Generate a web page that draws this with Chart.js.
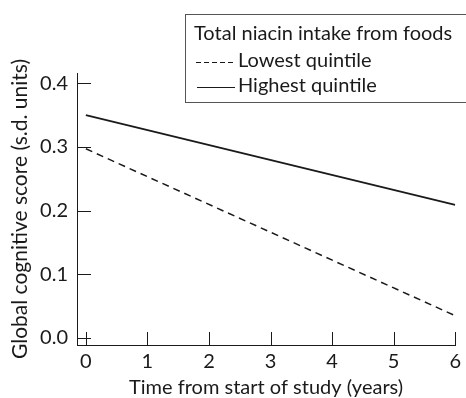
<!DOCTYPE html>
<html>
<head>
<meta charset="utf-8">
<script src="https://cdn.jsdelivr.net/npm/chart.js@4/dist/chart.umd.min.js"></script>
<style>
  html, body { margin: 0; padding: 0; background: #fff; }
  #wrap { width: 466px; height: 398px; position: relative; }
</style>
</head>
<body>
<div id="wrap"><canvas id="chart" width="466" height="398"></canvas></div>
<script>
// Chart data
const years = [0, 6];
const lowestQuintile = [0.297, 0.035];
const highestQuintile = [0.35, 0.209];
const xTicks = [0, 1, 2, 3, 4, 5, 6];
const yTicks = [0.0, 0.1, 0.2, 0.3, 0.4];
const legendTitle = 'Total niacin intake from foods';
const seriesNames = ['Lowest quintile', 'Highest quintile'];

const FONT = 'Lato, "Open Sans", sans-serif';
const INK = '#1a1a1a';
const FS = 20;

// Inward tick marks + boxed legend
const decorPlugin = {
    id: 'decor',
    afterDraw(chart) {
        const ctx = chart.ctx;
        const x = chart.scales.x, y = chart.scales.y;
        const area = chart.chartArea;
        ctx.save();
        ctx.strokeStyle = INK;
        ctx.lineWidth = 1;
        yTicks.forEach(v => {
            const py = Math.round(y.getPixelForValue(v)) + 0.5;
            ctx.beginPath();
            ctx.moveTo(area.left, py);
            ctx.lineTo(area.left + 14, py);
            ctx.stroke();
        });
        xTicks.forEach(v => {
            const px = Math.round(x.getPixelForValue(v)) + 0.5;
            ctx.beginPath();
            ctx.moveTo(px, area.bottom);
            ctx.lineTo(px, area.bottom - 13);
            ctx.stroke();
        });

        // legend box
        ctx.strokeStyle = '#555';
        ctx.fillStyle = '#fff';
        ctx.fillRect(185, 14, 290, 88);
        ctx.strokeRect(185.5, 14.5, 290, 88);
        ctx.fillStyle = INK;
        ctx.font = FS + 'px ' + FONT;
        ctx.textBaseline = 'middle';
        ctx.fillText(legendTitle, 194, 34);
        ctx.strokeStyle = INK;
        ctx.lineWidth = 1.2;
        ctx.setLineDash([5, 3]);
        ctx.beginPath();
        ctx.moveTo(196, 62.5);
        ctx.lineTo(234, 62.5);
        ctx.stroke();
        ctx.setLineDash([]);
        ctx.beginPath();
        ctx.moveTo(197, 87.5);
        ctx.lineTo(235, 87.5);
        ctx.stroke();
        ctx.fillText(seriesNames[0], 238, 61);
        ctx.fillText(seriesNames[1], 238, 86);
        ctx.restore();
    }
};

new Chart(document.getElementById('chart'), {
    type: 'line',
    data: {
        datasets: [
            {
                label: seriesNames[0],
                data: years.map((t, i) => ({ x: t, y: lowestQuintile[i] })),
                borderColor: INK,
                borderWidth: 1.5,
                borderDash: [7, 5],
                pointRadius: 0,
                fill: false
            },
            {
                label: seriesNames[1],
                data: years.map((t, i) => ({ x: t, y: highestQuintile[i] })),
                borderColor: INK,
                borderWidth: 1.8,
                pointRadius: 0,
                fill: false
            }
        ]
    },
    options: {
        responsive: false,
        animation: false,
        layout: { padding: { top: 73, right: 4, left: 0, bottom: 0 } },
        plugins: {
            legend: { display: false },
            tooltip: { enabled: false }
        },
        scales: {
            x: {
                type: 'linear',
                min: -0.144,
                max: 6.0,
                afterBuildTicks: s => { s.ticks = xTicks.map(v => ({ value: v })); },
                afterFit: s => { s.height = 53; },
                grid: { display: false, drawTicks: false },
                border: { color: INK, width: 1 },
                ticks: {
                    color: INK,
                    padding: 5,
                    font: { family: FONT, size: FS },
                    callback: v => String(v)
                },
                title: {
                    display: true,
                    text: 'Time from start of study (years)',
                    color: INK,
                    font: { family: FONT, size: FS },
                    padding: { top: 0, bottom: -2 }
                }
            },
            y: {
                min: -0.011,
                max: 0.416,
                afterBuildTicks: s => { s.ticks = yTicks.map(v => ({ value: v })); },
                afterFit: s => { s.width = 77; },
                grid: { display: false, drawTicks: false },
                border: { color: INK, width: 1 },
                ticks: {
                    color: INK,
                    padding: 9,
                    font: { family: FONT, size: FS },
                    callback: v => v.toFixed(1)
                },
                title: {
                    display: true,
                    text: 'Global cognitive score (s.d. units)',
                    color: INK,
                    font: { family: FONT, size: 21 },
                    padding: { top: 8, bottom: 0 }
                }
            }
        }
    },
    plugins: [decorPlugin]
});
</script>
</body>
</html>
